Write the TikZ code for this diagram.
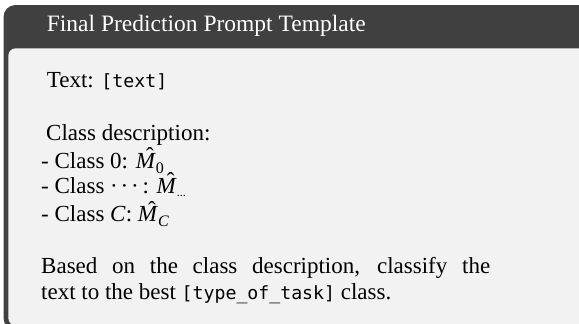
\documentclass[tikz,border=0pt]{standalone}
\usepackage{fontspec}
\setmainfont{Liberation Serif}
\newfontfamily\monof{DejaVu Sans Mono}
\definecolor{hdr}{HTML}{404040}
\definecolor{bodybg}{HTML}{F2F2F2}
\newcommand{\mytt}[1]{{\monof\fontsize{18.2}{20}\selectfont #1}}
\newcommand{\mysub}[1]{\smash{\raisebox{-0.22em}{\fontsize{16}{16}\selectfont #1}}}
\newcommand{\hatM}{\textit{M}\llap{\smash{\raisebox{0.2em}{ˆ}}\hspace{0.1em}}}
\newcommand{\mhat}[1]{\hatM\mysub{#1}}
\newcommand{\cdotsx}{·\kern0.12em·\kern0.12em·}
\tikzset{
  txt/.style={anchor=base west, inner sep=0pt, font=\fontsize{23}{28}\selectfont, text=black},
  ttl/.style={anchor=base west, inner sep=0pt, font=\fontsize{23.5}{28}\selectfont, text=white}
}
\begin{document}
\begin{tikzpicture}[x=1pt,y=-1pt]
\useasboundingbox[fill=white] (0,0) rectangle (579,324);
% frame
\fill[hdr, rounded corners=12pt] (3.5,5) rectangle (620,330);
\fill[bodybg, rounded corners=7.5pt] (8.3,48.3) rectangle (615,325.5);
% texts
\node[ttl] (title) at (46.7,31.7) {Final Prediction Prompt Template};
\node[txt] (t1) at (46.7,87.3) {Text: \mytt{[text]}};
\node[txt] (cd) at (46,140.7) {Class description:};
\node[txt] (c0) at (41,168.5) {- Class 0: \mhat{0}};
\node[txt] (cm) at (41,193) {- Class \cdotsx\,: \mhat{\fontsize{12}{12}\selectfont\raisebox{0.1em}{...}}};
\node[txt] (cc) at (41,221.7) {- Class \textit{C}: \mhat{\itshape C}};
\node[txt] (b1) at (41,273) {\makebox[449pt][s]{Based on the class description, classify the}};
\node[txt] (b2) at (41,299) {text to the best \mytt{[type\_of\_task]} class.};
\end{tikzpicture}
\end{document}
